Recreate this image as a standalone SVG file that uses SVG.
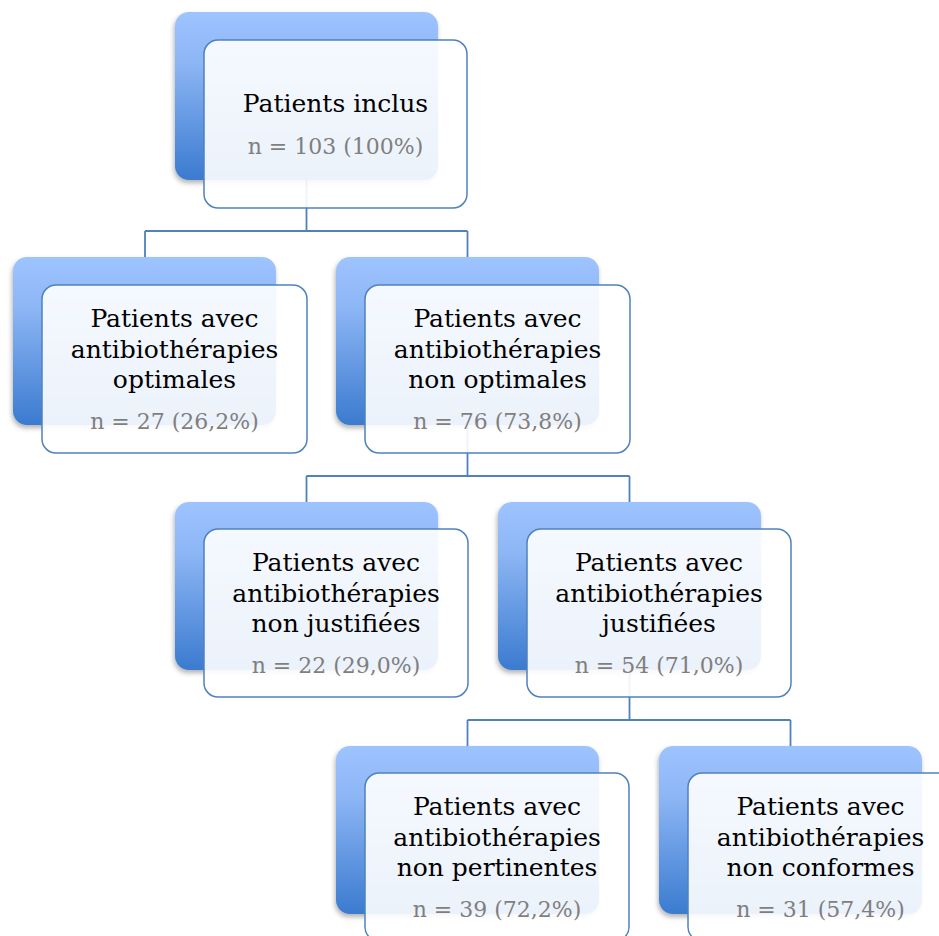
<svg xmlns="http://www.w3.org/2000/svg" width="939" height="936" viewBox="0 0 939 936">
<style>
.back{fill:url(#g);filter:url(#sh)}
.front{fill:#ffffff;fill-opacity:0.9;stroke:#4f81bd;stroke-width:1.5}
.t{font-family:"DejaVu Serif","Liberation Serif",serif;font-size:25px;fill:#000;text-anchor:middle}
.n{fill:#7f7f7f;font-size:22px}
.c{fill:none;stroke:#4f81bd;stroke-width:1.8}
</style>
<defs>
<linearGradient id="g" x1="0" y1="0" x2="0" y2="1">
<stop offset="0" stop-color="#9ec4ff"/>
<stop offset="0.3" stop-color="#8db6f5"/>
<stop offset="1" stop-color="#3b7bcf"/>
</linearGradient>
<filter id="sh" x="-10%" y="-10%" width="120%" height="125%">
<feDropShadow dx="-1" dy="3" stdDeviation="2.5" flood-color="#000" flood-opacity="0.3"/>
</filter>
</defs>
<rect width="939" height="936" fill="#fff"/>
<g id="connectors">
<path class="c" d="M306.5,180 V231 M145,231 H467.5 M145,231 V257 M467.5,231 V257"/>
<path class="c" d="M467.5,425 V476 M306.5,476 H629.5 M306.5,476 V502 M629.5,476 V502"/>
<path class="c" d="M629.5,670 V720 M467.5,720 H790.5 M467.5,720 V746 M790.5,720 V746"/>
</g>
<g id="n1">
<rect class="back" x="175" y="12" width="263" height="168" rx="14"/>
<rect class="front" x="204" y="40" width="263" height="168" rx="14"/>
<text class="t" x="335.5" y="112">Patients inclus</text>
<text class="t n" x="335.5" y="154">n = 103 (100%)</text>
</g>
<g id="n2">
<rect class="back" x="13" y="257" width="263" height="168" rx="14"/>
<rect class="front" x="42" y="285" width="265" height="168" rx="14"/>
<text class="t" x="174.5" y="327">Patients avec</text>
<text class="t" x="174.5" y="358">antibiothérapies</text>
<text class="t" x="174.5" y="388">optimales</text>
<text class="t n" x="174.5" y="429">n = 27 (26,2%)</text>
</g>
<g id="n3">
<rect class="back" x="336" y="257" width="263" height="168" rx="14"/>
<rect class="front" x="365" y="285" width="265" height="168" rx="14"/>
<text class="t" x="497.5" y="327">Patients avec</text>
<text class="t" x="497.5" y="358">antibiothérapies</text>
<text class="t" x="497.5" y="388">non optimales</text>
<text class="t n" x="497.5" y="429">n = 76 (73,8%)</text>
</g>
<g id="n4">
<rect class="back" x="175" y="502" width="263" height="168" rx="14"/>
<rect class="front" x="204" y="529" width="264" height="168" rx="14"/>
<text class="t" x="336" y="571">Patients avec</text>
<text class="t" x="336" y="602">antibiothérapies</text>
<text class="t" x="336" y="632">non justifiées</text>
<text class="t n" x="336" y="673">n = 22 (29,0%)</text>
</g>
<g id="n5">
<rect class="back" x="498" y="502" width="263" height="168" rx="14"/>
<rect class="front" x="527" y="529" width="264" height="168" rx="14"/>
<text class="t" x="659" y="571">Patients avec</text>
<text class="t" x="659" y="602">antibiothérapies</text>
<text class="t" x="659" y="632">justifiées</text>
<text class="t n" x="659" y="673">n = 54 (71,0%)</text>
</g>
<g id="n6">
<rect class="back" x="336" y="746" width="263" height="168" rx="14"/>
<rect class="front" x="365" y="773" width="264" height="168" rx="14"/>
<text class="t" x="497" y="815">Patients avec</text>
<text class="t" x="497" y="846">antibiothérapies</text>
<text class="t" x="497" y="876">non pertinentes</text>
<text class="t n" x="497" y="917">n = 39 (72,2%)</text>
</g>
<g id="n7">
<rect class="back" x="659" y="746" width="263" height="168" rx="14"/>
<rect class="front" x="688" y="773" width="265" height="168" rx="14"/>
<text class="t" x="820.5" y="815">Patients avec</text>
<text class="t" x="820.5" y="846">antibiothérapies</text>
<text class="t" x="820.5" y="876">non conformes</text>
<text class="t n" x="820.5" y="917">n = 31 (57,4%)</text>
</g>
</svg>
